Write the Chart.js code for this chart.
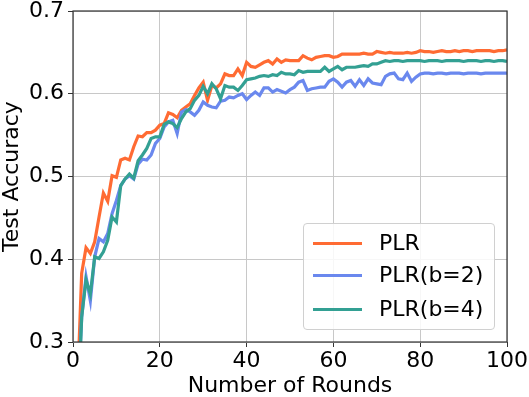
<!DOCTYPE html>
<html>
<head>
<meta charset="utf-8">
<script src="https://cdn.jsdelivr.net/npm/chart.js@4.4.0/dist/chart.umd.min.js"></script>
<style>
  html, body { margin: 0; padding: 0; background: #fff; }
  #wrap { position: relative; width: 529px; height: 397px; }
  #legend {
    position: absolute; left: 303px; top: 223px; width: 190px; height: 105px;
    border: 1px solid #d0d0d0; border-radius: 4px; background: rgba(255,255,255,0.85);
    font-family: "DejaVu Sans", sans-serif; font-size: 22px; color: #000;
  }
  .sw { position: absolute; left: 9px; width: 49px; height: 3px; }
  .lbl { position: absolute; left: 75px; white-space: nowrap; line-height: 30px; }
</style>
</head>
<body>
<div id="wrap">
  <canvas id="c" width="529" height="397"></canvas>
  <div id="legend"></div>
</div>
<script>
const rounds = Array.from({length: 100}, (_, i) => i + 1);

const seriesNames = ["PLR", "PLR(b=2)", "PLR(b=4)"];
const seriesColors = ["#ff6b33", "#6a88ee", "#33a093"];

const plr = [
  0.24, 0.383, 0.414, 0.407, 0.421, 0.451, 0.480, 0.470, 0.501, 0.499,
  0.520, 0.522, 0.520, 0.536, 0.549, 0.548, 0.553, 0.553, 0.556, 0.562,
  0.564, 0.577, 0.575, 0.571, 0.580, 0.584, 0.588, 0.598, 0.607, 0.614,
  0.592, 0.610, 0.607, 0.612, 0.624, 0.622, 0.622, 0.630, 0.622, 0.638,
  0.633, 0.632, 0.635, 0.638, 0.640, 0.636, 0.642, 0.638, 0.641, 0.640,
  0.640, 0.640, 0.646, 0.643, 0.641, 0.644, 0.645, 0.646, 0.646, 0.644,
  0.645, 0.648, 0.648, 0.648, 0.648, 0.648, 0.649, 0.648, 0.648, 0.651,
  0.650, 0.649, 0.650, 0.649, 0.649, 0.649, 0.650, 0.649, 0.650, 0.652,
  0.651, 0.651, 0.650, 0.651, 0.652, 0.651, 0.651, 0.652, 0.651, 0.652,
  0.652, 0.651, 0.652, 0.652, 0.652, 0.652, 0.651, 0.652, 0.652, 0.653
];

const plrB2 = [
  0.22, 0.330, 0.379, 0.350, 0.403, 0.425, 0.421, 0.431, 0.455, 0.471,
  0.489, 0.497, 0.501, 0.497, 0.515, 0.521, 0.520, 0.526, 0.540, 0.546,
  0.560, 0.566, 0.568, 0.552, 0.578, 0.581, 0.578, 0.574, 0.580, 0.590,
  0.586, 0.584, 0.583, 0.591, 0.592, 0.596, 0.595, 0.598, 0.600, 0.593,
  0.598, 0.602, 0.598, 0.607, 0.607, 0.602, 0.605, 0.603, 0.601, 0.605,
  0.608, 0.614, 0.616, 0.604, 0.606, 0.607, 0.608, 0.608, 0.615, 0.618,
  0.614, 0.608, 0.614, 0.616, 0.609, 0.617, 0.610, 0.618, 0.613, 0.612,
  0.611, 0.621, 0.624, 0.625, 0.618, 0.617, 0.625, 0.615, 0.620, 0.624,
  0.625, 0.625, 0.624, 0.625, 0.625, 0.624, 0.625, 0.625, 0.625, 0.624,
  0.625, 0.625, 0.625, 0.624, 0.625, 0.625, 0.625, 0.625, 0.625, 0.625
];

const plrB4 = [
  0.20, 0.330, 0.375, 0.358, 0.403, 0.401, 0.409, 0.423, 0.451, 0.445,
  0.489, 0.497, 0.503, 0.498, 0.519, 0.526, 0.534, 0.546, 0.548, 0.548,
  0.563, 0.566, 0.564, 0.559, 0.570, 0.578, 0.582, 0.592, 0.598, 0.609,
  0.600, 0.612, 0.606, 0.594, 0.610, 0.608, 0.608, 0.604, 0.610, 0.617,
  0.618, 0.619, 0.621, 0.622, 0.621, 0.623, 0.622, 0.626, 0.624, 0.624,
  0.623, 0.628, 0.626, 0.627, 0.627, 0.627, 0.627, 0.632, 0.627, 0.630,
  0.633, 0.629, 0.632, 0.632, 0.632, 0.633, 0.634, 0.633, 0.636, 0.636,
  0.638, 0.640, 0.639, 0.640, 0.640, 0.639, 0.640, 0.640, 0.640, 0.640,
  0.639, 0.640, 0.640, 0.640, 0.639, 0.640, 0.640, 0.640, 0.640, 0.639,
  0.640, 0.640, 0.640, 0.639, 0.640, 0.640, 0.639, 0.640, 0.640, 0.639
];

const xTicks = [0, 20, 40, 60, 80, 100];
const yTicks = [0.3, 0.4, 0.5, 0.6, 0.7];

const allSeries = [plr, plrB2, plrB4];

const FONT = "'DejaVu Sans', sans-serif";
const FS = 22;

const framePlugin = {
  id: 'frame',
  afterDatasetsDraw(chart) {
    const a = chart.chartArea, ctx = chart.ctx;
    ctx.save();
    ctx.strokeStyle = '#333333';
    ctx.lineWidth = 1.2;
    ctx.strokeRect(a.left, a.top, a.right - a.left, a.bottom - a.top);
    ctx.restore();
  }
};

const datasets = allSeries.map((vals, i) => ({
  label: seriesNames[i],
  data: rounds.map((r, k) => ({x: r, y: vals[k]})),
  borderColor: seriesColors[i],
  backgroundColor: seriesColors[i],
  borderWidth: 3.2,
  pointRadius: 0,
  tension: 0,
  fill: false,
  order: 3 - i
}));

new Chart(document.getElementById('c'), {
  type: 'line',
  data: { datasets },
  options: {
    responsive: false,
    animation: false,
    devicePixelRatio: 1,
    layout: { padding: { top: 11, right: 22, left: 0, bottom: 0 } },
    plugins: { legend: { display: false }, tooltip: { enabled: false } },
    scales: {
      x: {
        type: 'linear', min: 0, max: 100,
        afterBuildTicks: (s) => { s.ticks = xTicks.map(v => ({value: v})); },
        afterFit: (s) => { s.height = 55; s.paddingLeft = 0; s.paddingRight = 0; },
        grid: { color: '#c8c8c8', lineWidth: 1, tickLength: 5, tickColor: '#333', tickWidth: 1 },
        border: { display: false },
        ticks: { color: '#000', font: { family: FONT, size: FS }, padding: 1, maxRotation: 0 },
        title: { display: true, text: 'Number of Rounds', color: '#000', font: { family: FONT, size: FS, lineHeight: 1 }, padding: { top: 0, bottom: 0 } }
      },
      y: {
        type: 'linear', min: 0.3, max: 0.7,
        afterBuildTicks: (s) => { s.ticks = yTicks.map(v => ({value: v})); },
        afterFit: (s) => { s.width = 73; s.paddingTop = 0; s.paddingBottom = 0; },
        grid: { color: '#c8c8c8', lineWidth: 1, tickLength: 5, tickColor: '#333', tickWidth: 1 },
        border: { display: false },
        ticks: { color: '#000', font: { family: FONT, size: FS }, padding: 4, callback: (v) => v.toFixed(1) },
        title: { display: true, text: 'Test Accuracy', color: '#000', font: { family: FONT, size: FS, lineHeight: 1 }, padding: { top: 1, bottom: 0 } }
      }
    }
  },
  plugins: [framePlugin]
});

// HTML legend built from the series names/colors
const leg = document.getElementById('legend');
const centers = [19, 51, 85];
seriesNames.forEach((name, i) => {
  const sw = document.createElement('div');
  sw.className = 'sw';
  sw.style.top = (centers[i] - 1.5) + 'px';
  sw.style.background = seriesColors[i];
  leg.appendChild(sw);
  const lb = document.createElement('div');
  lb.className = 'lbl';
  lb.style.top = (centers[i] - 15) + 'px';
  lb.textContent = name;
  leg.appendChild(lb);
});
</script>
</body>
</html>
